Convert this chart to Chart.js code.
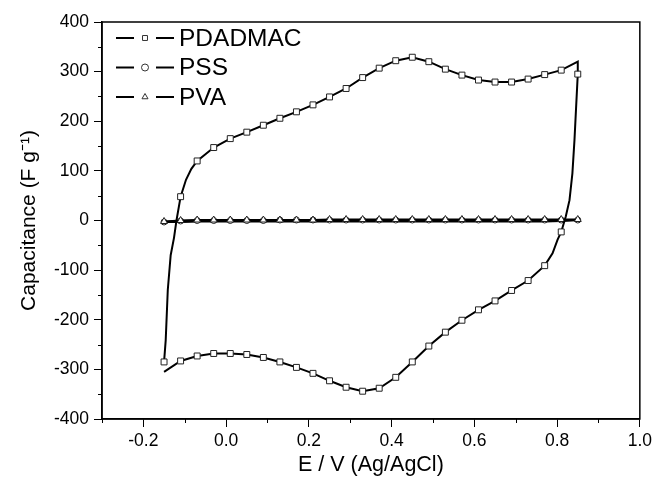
<!DOCTYPE html>
<html>
<head>
<meta charset="utf-8">
<script src="https://cdn.jsdelivr.net/npm/chart.js@4"></script>
<style>
  body { margin: 0; background: #fff; }
  #wrap { width: 656px; height: 488px; }
</style>
</head>
<body>
<div id="wrap"><canvas id="cv" width="656" height="488"></canvas></div>
<script>
// potentials where the markers sit (forward sweep order)
const sweepE = [-0.15, -0.11, -0.07, -0.03, 0.01, 0.05, 0.09, 0.13, 0.17, 0.21, 0.25, 0.29, 0.33,
                0.37, 0.41, 0.45, 0.49, 0.53, 0.57, 0.61, 0.65, 0.69, 0.73, 0.77, 0.81, 0.85];

// PDADMAC, anodic sweep (-0.15 -> 0.85) and cathodic sweep (0.85 -> -0.15)
const pdadmacFwd = [-285, 48, 120, 147, 165, 178, 192, 206, 219, 233, 249, 266, 288,
                    307, 322, 329, 320, 305, 293, 283, 279, 279, 285, 294, 303, 320];
const pdadmacRev = [295, -23, -91, -121, -141, -162, -180, -201, -225, -253, -285, -316, -338,
                    -344, -336, -323, -308, -296, -285, -276, -270, -268, -268, -273, -283, -305];
// extra points on the steep parts (no marker)
const riseE = [-0.146, -0.141, -0.134, -0.126, -0.12, -0.097, -0.084];
const riseC = [-241, -140, -70, -35, 0, 82, 104];
const turnE = [0.846, 0.842, 0.837, 0.83, 0.821, 0.801, 0.789];
const turnC = [229, 162, 95, 41, 8, -39, -66];

// PSS and PVA stay close to zero
const pssFwd = [-3, -1, 0, 0, 0, 0, 0, 1, 1, 1, 1, 1, 1, 1, 1, 1, 1, 1, 1, 1, 1, 1, 1, 1, 1, 1];
const pssRev = [1, -1, -2, -2, -2, -2, -2, -2, -2, -2, -2, -2, -2, -2, -2, -2, -2, -2, -2, -2, -2, -2, -2, -2, -3, -3];
const pvaFwd = [-2, 0, 1, 1, 1, 1, 1, 1, 1, 1, 2, 2, 2, 2, 2, 2, 2, 2, 2, 2, 2, 2, 2, 2, 2, 2];
const pvaRev = [1, 0, -1, -1, -1, -1, -1, -1, -1, -1, -1, -1, -1, -1, -1, -1, -1, -1, -1, -1, -1, -1, -1, -1, -2, -2];

const xTicks = [-0.2, 0.0, 0.2, 0.4, 0.6, 0.8, 1.0];
const xMinor = [-0.3, -0.1, 0.1, 0.3, 0.5, 0.7, 0.9];
const yTicks = [-400, -300, -200, -100, 0, 100, 200, 300, 400];
const yMinor = [-350, -250, -150, -50, 50, 150, 250, 350];

const FONT = '"Liberation Sans", Arial, sans-serif';

// build one closed CV loop: forward sweep then reverse sweep
function loop(fwd, rev, markLast, extraFwdE, extraFwdC, extraRevE, extraRevC) {
    var f = fwd.map((c, i) => ({ x: sweepE[i], y: c, m: markLast || i < fwd.length - 1 }));
    (extraFwdE || []).forEach((e, i) => f.push({ x: e, y: extraFwdC[i], m: false }));
    f.sort((a, b) => a.x - b.x || (a.m ? -1 : 1));
    var revE = sweepE.slice().reverse();
    var r = rev.map((c, i) => ({ x: revE[i], y: c, m: !markLast && i < rev.length - 1 }));
    (extraRevE || []).forEach((e, i) => r.push({ x: e, y: extraRevC[i], m: false }));
    r.sort((a, b) => b.x - a.x);
    return f.concat(r);
}

function series(label, data, style, radius, order) {
    return {
        label: label,
        data: data,
        order: order,
        showLine: true,
        tension: 0,
        borderColor: '#000',
        borderWidth: 2,
        pointStyle: style,
        pointBackgroundColor: '#fff',
        pointBorderColor: '#222',
        pointBorderWidth: 1,
        pointRadius: ctx => (ctx.raw && ctx.raw.m ? radius : 0),
        pointHoverRadius: 0
    };
}

const frame = {
    id: 'frame',
    afterDraw(chart) {
        const { ctx, chartArea: a, scales: { x, y } } = chart;
        ctx.save();
        ctx.strokeStyle = '#000';
        ctx.lineWidth = 1.5;
        ctx.strokeRect(a.left, a.top, a.right - a.left, a.bottom - a.top);
        // minor ticks, outside
        ctx.lineWidth = 1;
        ctx.beginPath();
        xMinor.forEach(v => {
            const px = Math.round(x.getPixelForValue(v)) + 0.5;
            ctx.moveTo(px, a.bottom); ctx.lineTo(px, a.bottom + 4);
        });
        yMinor.forEach(v => {
            const py = Math.round(y.getPixelForValue(v)) + 0.5;
            ctx.moveTo(a.left, py); ctx.lineTo(a.left - 4, py);
        });
        ctx.stroke();

        // legend inside the plot, top left
        chart.data.datasets.forEach((ds, i) => {
            const ly = 38 + i * 29.5;
            ctx.strokeStyle = '#000';
            ctx.lineWidth = 2;
            ctx.beginPath();
            ctx.moveTo(116, ly); ctx.lineTo(134, ly);
            ctx.moveTo(156, ly); ctx.lineTo(174, ly);
            ctx.stroke();
            ctx.fillStyle = '#fff';
            ctx.strokeStyle = '#333';
            ctx.lineWidth = 1;
            Chart.helpers.drawPoint(ctx, { pointStyle: ds.pointStyle, radius: 3.5, rotation: 0, borderWidth: 1 }, 145, ly);
            ctx.fillStyle = '#000';
            ctx.font = '24.5px ' + FONT;
            ctx.textAlign = 'left';
            ctx.textBaseline = 'middle';
            ctx.fillText(ds.label, 179, ly + 1);
        });
        ctx.restore();
    }
};

new Chart(document.getElementById('cv'), {
    type: 'scatter',
    data: {
        datasets: [
            series('PDADMAC', loop(pdadmacFwd, pdadmacRev, false, riseE, riseC, turnE, turnC), 'rect', 4.2, 0),
            series('PSS', loop(pssFwd, pssRev, true), 'circle', 3, 2),
            series('PVA', loop(pvaFwd, pvaRev, true), 'triangle', 4, 1)
        ]
    },
    options: {
        responsive: false,
        animation: false,
        layout: { padding: { left: 0, right: 16, top: 22, bottom: 0 } },
        plugins: { legend: { display: false }, tooltip: { enabled: false } },
        scales: {
            x: {
                type: 'linear',
                min: -0.3,
                max: 1.0,
                afterBuildTicks: s => { s.ticks = xTicks.map(v => ({ value: v })); },
                afterFit: s => { s.height = 69; },
                grid: { drawOnChartArea: false, drawTicks: true, tickLength: 8, tickColor: '#000', tickWidth: 1 },
                border: { color: '#000', width: 1.5 },
                ticks: { color: '#000', font: { family: FONT, size: 17.5 }, padding: 4, maxRotation: 0,
                         callback: v => v.toFixed(1) },
                title: { display: true, text: 'E / V (Ag/AgCl)', color: '#000',
                         font: { family: FONT, size: 21.5 }, padding: { top: 0, bottom: 10 } }
            },
            y: {
                type: 'linear',
                min: -400,
                max: 400,
                afterBuildTicks: s => { s.ticks = yTicks.map(v => ({ value: v })); },
                afterFit: s => { s.width = 102; },
                grid: { drawOnChartArea: false, drawTicks: true, tickLength: 8, tickColor: '#000', tickWidth: 1 },
                border: { color: '#000', width: 1.5 },
                ticks: { color: '#000', font: { family: FONT, size: 17.5 }, padding: 5,
                         callback: v => String(v) },
                title: { display: true, text: 'Capacitance (F g\u207B\u00B9)', color: '#000',
                         font: { family: FONT, size: 21 }, padding: { top: 17, bottom: 0 } }
            }
        }
    },
    plugins: [frame]
});
</script>
</body>
</html>
